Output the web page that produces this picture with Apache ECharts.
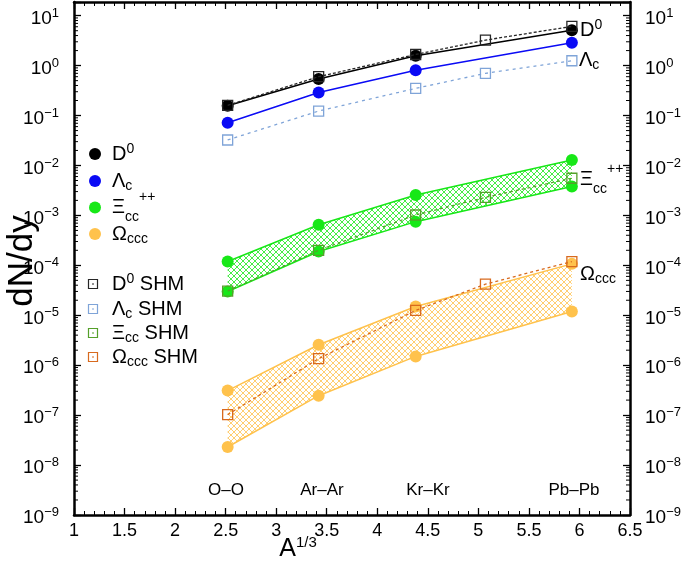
<!DOCTYPE html>
<html><head><meta charset="utf-8">
<script src="https://cdn.jsdelivr.net/npm/echarts@6/dist/echarts.min.js"></script>
<style>html,body{margin:0;padding:0;background:#fff}#c{width:685px;height:566px}</style>
</head><body><div id="c"></div>
<script>
// ---------- data ----------
const systems = ['O\u2013O', 'Ar\u2013Ar', 'Kr\u2013Kr', 'Pb\u2013Pb'];
const xSys = [2.52, 3.42, 4.38, 5.925];          // A^(1/3) of O, Ar, Kr, Pb
const xShm = [2.52, 3.42, 4.38, 5.07, 5.925];    // SHM points (extra Xe)
const d0 = [0.157, 0.54, 1.58, 5.1];
const lc = [0.072, 0.29, 0.81, 2.86];
const xiHigh = [1.19e-4, 6.5e-4, 2.57e-3, 1.29e-2];
const xiLow = [3.0e-5, 1.89e-4, 7.5e-4, 3.8e-3];
const omHigh = [3.1e-7, 2.57e-6, 1.5e-5, 1.07e-4];
const omLow = [2.3e-8, 2.45e-7, 1.5e-6, 1.19e-5];
const d0Shm = [0.16, 0.6, 1.67, 3.24, 6.1];
const lcShm = [0.0324, 0.123, 0.35, 0.70, 1.25];
const xiShm = [3.05e-5, 2.0e-4, 1.02e-3, 2.3e-3, 5.55e-3];
const omShm = [1.02e-7, 1.35e-6, 1.25e-5, 4.2e-5, 1.19e-4];
const yDecades = [-9, -8, -7, -6, -5, -4, -3, -2, -1, 0, 1];
const minorMult = [2, 3, 4, 5, 6, 7, 8, 9];

// ---------- styling ----------
const FF = '"Liberation Sans", Arial, Helvetica, sans-serif';
const C = {d0:'#000000', lc:'#0a0af5', xi:'#17e817', om:'#ffc24c',
           d0s:'#262626', lcs:'#7fa4d8', xis:'#55a02a', oms:'#d86a1e'};
const L10 = Math.log10;
const YMIN = -9, YMAX = 1.274;
const pts = (xs, ys) => ys.map((v, i) => [xs[i], L10(v)]);

function hatch(color) {
  const s = 6, c = document.createElement('canvas');
  c.width = s; c.height = s;
  const g = c.getContext('2d');
  g.strokeStyle = color; g.lineWidth = 0.8;
  g.beginPath();
  g.moveTo(-1, -1); g.lineTo(s + 1, s + 1);
  g.moveTo(s + 1, -1); g.lineTo(-1, s + 1);
  g.stroke();
  return {image: c, repeat: 'repeat'};
}

function model(name, xs, ys, col) {
  return {
    name, type:'line', data: pts(xs, ys), symbol:'circle', symbolSize:12,
    itemStyle:{color: col}, lineStyle:{color: col, width:1.5}, z: 3
  };
}
function shm(name, xs, ys, col, dash) {
  return {
    name, type:'line', data: pts(xs, ys), symbol:'rect', symbolSize:10,
    itemStyle:{color:'rgba(255,255,255,0)', borderColor: col, borderWidth:1.3},
    lineStyle:{color: col, width:1.3, type: dash || [4, 3]}, z: 4
  };
}
function bandFill(name, xs, hi, lo, col) {
  const data = [];
  for (let i = 0; i < xs.length - 1; i++) {
    data.push([xs[i], L10(lo[i]), L10(hi[i]), xs[i + 1], L10(lo[i + 1]), L10(hi[i + 1])]);
  }
  const pattern = hatch(col);
  return {
    name, type:'custom', coordinateSystem:'cartesian2d', silent:true, z:2, data,
    encode:{x:[0, 3], y:[1, 2, 4, 5]},
    renderItem: (p, api) => {
      const a = api.coord([api.value(0), api.value(2)]);
      const b = api.coord([api.value(3), api.value(5)]);
      const c = api.coord([api.value(3), api.value(4)]);
      const d = api.coord([api.value(0), api.value(1)]);
      return {type:'polygon', shape:{points:[a, b, c, d]}, style:{fill: pattern}};
    }
  };
}

const minorVals = [];
yDecades.forEach(n => minorMult.forEach(k => { const v = n + L10(k); if (v < YMAX) minorVals.push([1, v]); }));

const minorTickSeries = {
  type:'custom', coordinateSystem:'cartesian2d', silent:true, z:10,
  data: minorVals, encode:{x:0, y:1},
  renderItem: (params, api) => {
    const y = api.coord([1, api.value(1)])[1];
    const xl = api.coord([1, 0])[0], xr = api.coord([6.5, 0])[0];
    return {type:'group', children:[
      {type:'line', shape:{x1:xl, y1:y, x2:xl + 4, y2:y}, style:{stroke:'#000', lineWidth:1}},
      {type:'line', shape:{x1:xr - 4, y1:y, x2:xr, y2:y}, style:{stroke:'#000', lineWidth:1}}
    ]};
  }
};

const TICK_RICH = {
  b:{fontSize:19, fontFamily:FF, lineHeight:24, color:'#000'},
  s:{fontSize:13, fontFamily:FF, lineHeight:12, verticalAlign:'top', color:'#000'}
};
function powFmt(v) {
  const e = Math.round(v);
  if (Math.abs(v - e) > 1e-6) return '';
  return '{b|10}{s|' + (e < 0 ? '\u2212' + (-e) : e) + '}';
}
function yAxis(pos) {
  return {
    type:'value', min:YMIN, max:YMAX, interval:1, position: pos,
    axisLine:{show:true, onZero:false, lineStyle:{color:'#000', width:2.5}},
    axisTick:{show:true, inside:true, length:7, lineStyle:{color:'#000', width:1.3}},
    splitLine:{show:false},
    axisLabel:{show:true, margin:15, formatter: powFmt, rich: TICK_RICH, padding:[6, 0, 0, 0]}
  };
}
function xAxis(pos, labels) {
  return {
    type:'value', min:1, max:6.5, interval:0.5, position: pos,
    axisLine:{show:true, onZero:false, lineStyle:{color:'#000', width:2.5}},
    axisTick:{show:true, inside:true, length:7, lineStyle:{color:'#000', width:1.3}},
    minorTick:{show:true, splitNumber:5, length:4, lineStyle:{color:'#000', width:1}},
    splitLine:{show:false}, minorSplitLine:{show:false},
    axisLabel:{show: labels, margin:7, fontSize:18, fontFamily:FF, color:'#000'}
  };
}

// rich styles for legend / end labels (graphic text -> fill)
const LR = {
  b:{fontSize:20, fontFamily:FF, lineHeight:24, fill:'#000'},
  sp:{fontSize:14, fontFamily:FF, lineHeight:8, verticalAlign:'top', fill:'#000'},
  sb:{fontSize:14, fontFamily:FF, lineHeight:12, verticalAlign:'bottom', fill:'#000'},
  bt:{fontSize:20, fontFamily:FF, lineHeight:34, fill:'#000'},
  sbt:{fontSize:14, fontFamily:FF, lineHeight:22, verticalAlign:'bottom', fill:'#000'},
  spt:{fontSize:14, fontFamily:FF, lineHeight:4, verticalAlign:'top', fill:'#000'}
};
const LBL = {
  'D0':'{b|D}{sp|0}', 'Lc':'{b|\u039b}{sb|c}', 'Xcc':'{bt|\u039e}{sbt|cc}{spt|++}', 'Occc':'{b|\u03a9}{sb|ccc}',
  'D0 SHM':'{b|D}{sp|0}{b| SHM}', 'Lc SHM':'{b|\u039b}{sb|c}{b| SHM}',
  'Xcc SHM':'{b|\u039e}{sb|cc}{b| SHM}', 'Occc SHM':'{b|\u03a9}{sb|ccc}{b| SHM}'
};
const legModel = [['D0', C.d0, 154], ['Lc', C.lc, 181], ['Xcc', C.xi, 207.5], ['Occc', C.om, 234]];
const legShm = [['D0 SHM', C.d0s, 284], ['Lc SHM', C.lcs, 309], ['Xcc SHM', C.xis, 333], ['Occc SHM', C.oms, 357]];

const sysLabelPos = [[226, 490], [322, 490], [428, 490], [574, 490]];
const endLabels = [['D0', 580, 30], ['Lc', 579, 60], ['Xcc', 580, 179], ['Occc', 580, 274]];

const txt = (x, y, text, extra) => ({type:'text', x, y, z:20,
  style:Object.assign({text, fill:'#000', fontFamily:FF, rich:LR, align:'left', verticalAlign:'middle'}, extra || {})});

const graphic = [
  {type:'text', x:22, y:261, rotation:Math.PI / 2,
   style:{text:'dN/dy', fontSize:35, fontFamily:FF, fill:'#000', align:'center', verticalAlign:'middle'}},
  {type:'text', x:298, y:549,
   style:{text:'{a|A}{s|1/3}', fill:'#000', align:'center', verticalAlign:'middle',
          rich:{a:{fontSize:25, fontFamily:FF, lineHeight:28, fill:'#000'},
                s:{fontSize:15, fontFamily:FF, lineHeight:6, verticalAlign:'top', fill:'#000'}}}}
]
 .concat(systems.map((s, i) => txt(sysLabelPos[i][0], sysLabelPos[i][1], s, {fontSize:17, align:'center'})))
 .concat(endLabels.map(([n, x, y]) => txt(x, y, LBL[n])))
 .concat(legModel.map(([n, c, y]) => ({type:'circle', shape:{cx:95, cy:y, r:6}, style:{fill:c}})))
 .concat(legModel.map(([n, c, y]) => txt(112, y, LBL[n])))
 .concat(legShm.map(([n, c, y]) => ({type:'group', children:[
    {type:'rect', shape:{x:88.5, y:y - 4.5, width:9, height:9}, style:{fill:'none', stroke:c, lineWidth:1.2}},
    {type:'line', shape:{x1:92, y1:y, x2:94, y2:y}, style:{stroke:c, lineWidth:1}}]})))
 .concat(legShm.map(([n, c, y]) => txt(112, y, LBL[n])));

const series = [minorTickSeries,
  shm('D0 SHM', xShm, d0Shm, C.d0s, [3, 2]),
  model('D0', xSys, d0, C.d0),
  model('Lc', xSys, lc, C.lc),
  shm('Lc SHM', xShm, lcShm, C.lcs, [3, 4]),
  bandFill('Xcc', xSys, xiHigh, xiLow, C.xi),
  model('Xcc', xSys, xiHigh, C.xi),
  model('Xcc', xSys, xiLow, C.xi),
  shm('Xcc SHM', xShm, xiShm, C.xis, [3, 3]),
  bandFill('Occc', xSys, omHigh, omLow, C.om),
  model('Occc', xSys, omHigh, C.om),
  model('Occc', xSys, omLow, C.om),
  shm('Occc SHM', xShm, omShm, C.oms, [3, 3])
];

const chart = echarts.init(document.getElementById('c'), null, {renderer:'canvas'});
chart.setOption({
  animation:false, backgroundColor:'#fff',
  grid:{left:74, right:55, top:2, bottom:51, containLabel:false},
  xAxis:[xAxis('bottom', true), xAxis('top', false)],
  yAxis:[yAxis('left'), yAxis('right')],
  graphic,
  series
});
</script></body></html>
